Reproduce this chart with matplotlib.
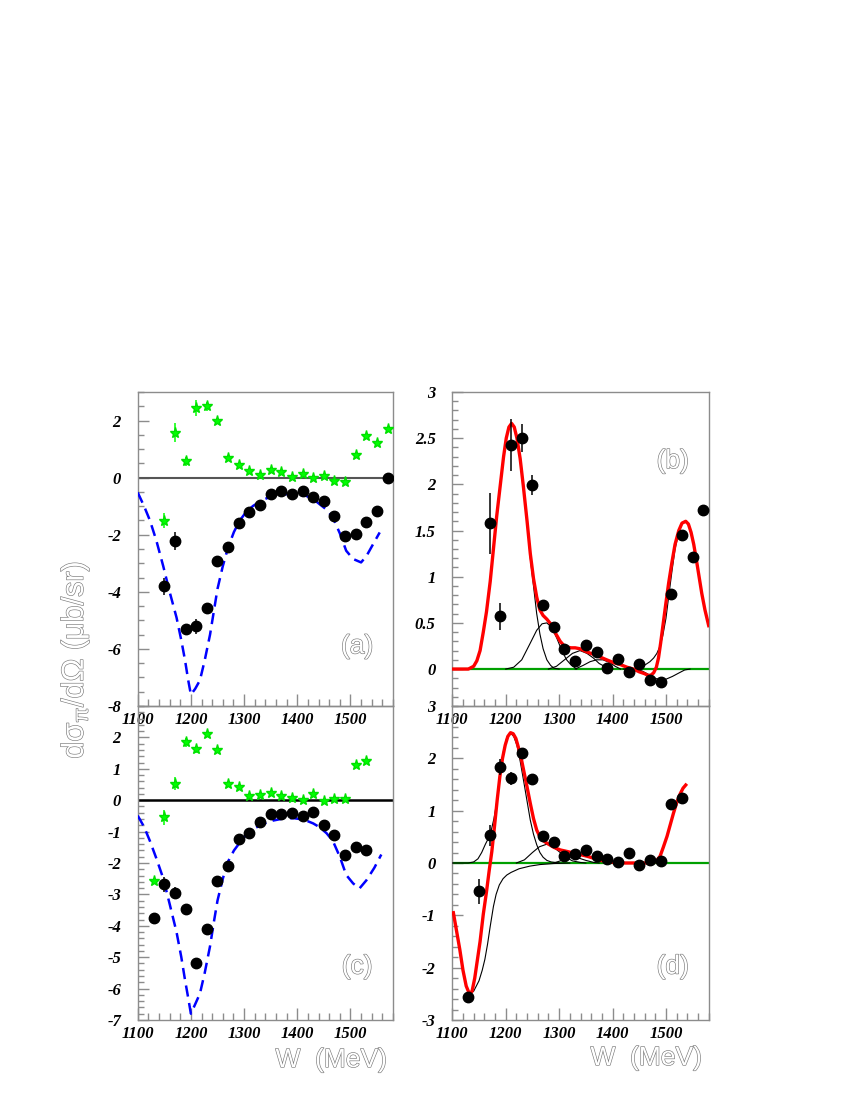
import numpy as np
import matplotlib
matplotlib.use("Agg")
import matplotlib.pyplot as plt
import matplotlib.patheffects as pe
from matplotlib.ticker import MultipleLocator, FixedLocator, FuncFormatter

plt.rcParams['font.family'] = ['Liberation Serif', 'DejaVu Serif']
plt.rcParams['font.weight'] = 'bold'
plt.rcParams['font.style'] = 'italic'
plt.rcParams['axes.unicode_minus'] = False
plt.rcParams['mathtext.fontset'] = 'custom'
plt.rcParams['mathtext.rm'] = 'Liberation Sans'
plt.rcParams['mathtext.default'] = 'regular'

# ===== data =====
# panels (a)/(b): W = 1150 ... 1570 MeV
W_ab = [1150, 1170, 1190, 1210, 1230, 1250, 1270, 1290, 1310, 1330, 1350,
        1370, 1390, 1410, 1430, 1450, 1470, 1490, 1510, 1530, 1550, 1570]
a_dots = [-3.81, -2.21, -5.29, -5.21, -4.58, -2.92, -2.42, -1.58, -1.21, -0.97, -0.57,
          -0.47, -0.57, -0.47, -0.67, -0.81, -1.36, -2.06, -1.99, -1.55, -1.17, 0.0]
a_dots_err = [0.29, 0.32, 0.08, 0.27, 0.08, 0.07, 0.07, 0.06, 0.06, 0.05, 0.05,
              0.05, 0.05, 0.05, 0.05, 0.05, 0.06, 0.06, 0.06, 0.06, 0.06, 0.06]
ab_stars = [-1.51, 1.58, 0.57, 2.43, 2.50, 1.99, 0.69, 0.46, 0.22, 0.09, 0.26,
            0.19, 0.01, 0.11, -0.03, 0.05, -0.12, -0.14, 0.81, 1.45, 1.21, 1.72]
ab_stars_err = [0.27, 0.33, 0.15, 0.28, 0.15, 0.11, 0.05, 0.04, 0.03, 0.03, 0.03,
                0.03, 0.03, 0.03, 0.03, 0.03, 0.03, 0.03, 0.04, 0.04, 0.04, 0.04]

# panels (c)/(d): W = 1130 ... 1530 MeV
W_cd = [1130, 1150, 1170, 1190, 1210, 1230, 1250, 1270, 1290, 1310, 1330,
        1350, 1370, 1390, 1410, 1430, 1450, 1470, 1490, 1510, 1530]
c_dots = [-3.76, -2.68, -2.94, -3.46, -5.19, -4.09, -2.56, -2.10, -1.24, -1.03, -0.70,
          -0.43, -0.43, -0.42, -0.50, -0.39, -0.80, -1.11, -1.74, -1.49, -1.59]
c_dots_err = [0.06, 0.25, 0.16, 0.15, 0.10, 0.06, 0.06, 0.06, 0.06, 0.05, 0.05,
              0.05, 0.05, 0.05, 0.05, 0.05, 0.05, 0.05, 0.05, 0.05, 0.05]
cd_stars = [-2.57, -0.54, 0.53, 1.84, 1.62, 2.10, 1.60, 0.51, 0.41, 0.13, 0.17,
            0.24, 0.14, 0.08, 0.01, 0.19, -0.04, 0.05, 0.04, 1.12, 1.25]
cd_stars_err = [0.10, 0.24, 0.20, 0.15, 0.12, 0.05, 0.04, 0.10, 0.04, 0.03, 0.03,
                0.03, 0.03, 0.03, 0.03, 0.03, 0.03, 0.03, 0.03, 0.04, 0.04]

# blue dashed model curves
W_blue_a = [1100, 1112, 1123, 1135, 1148, 1160, 1173, 1182, 1189, 1195, 1200, 1208,
            1217, 1226, 1236, 1243, 1250, 1260, 1270, 1281, 1292, 1304, 1317, 1335,
            1354, 1372, 1392, 1405, 1417, 1430, 1442, 1455, 1467, 1480, 1492, 1505,
            1520, 1530, 1542, 1555]
blue_a = [-0.52, -1.0, -1.5, -2.2, -3.1, -4.0, -4.9, -5.7, -6.4, -7.1, -7.6, -7.4,
          -7.1, -6.4, -5.5, -4.7, -3.9, -3.1, -2.44, -1.9, -1.5, -1.2, -0.99, -0.78,
          -0.64, -0.58, -0.58, -0.6, -0.64, -0.75, -0.93, -1.12, -1.4, -1.95, -2.56, -2.85,
          -2.97, -2.75, -2.35, -1.92]
W_blue_c = [1100, 1112, 1123, 1135, 1148, 1160, 1173, 1182, 1189, 1195, 1200, 1208,
            1217, 1226, 1236, 1243, 1250, 1260, 1270, 1281, 1292, 1304, 1317, 1335,
            1354, 1372, 1392, 1405, 1417, 1430, 1442, 1455, 1467, 1480, 1492, 1505,
            1517, 1530, 1545, 1558]
blue_c = [-0.49, -0.85, -1.3, -1.85, -2.49, -3.3, -4.2, -5.0, -5.73, -6.3, -6.8, -6.5,
          -6.16, -5.5, -4.65, -3.9, -3.2, -2.5, -1.95, -1.6, -1.35, -1.1, -0.92, -0.76,
          -0.65, -0.59, -0.57, -0.6, -0.65, -0.74, -0.86, -1.05, -1.3, -1.8, -2.38, -2.65,
          -2.81, -2.55, -2.15, -1.73]

# red fit (b) and its components
W_red_b = [1100, 1130, 1140, 1146, 1152, 1158, 1164, 1171, 1177, 1183, 1190, 1196,
           1201, 1206, 1211, 1216, 1221, 1227, 1233, 1240, 1246, 1252, 1258, 1264,
           1270, 1277, 1284, 1290, 1296, 1302, 1308, 1314, 1322, 1330, 1339, 1350,
           1364, 1377, 1389, 1402, 1414, 1427, 1439, 1450, 1460, 1467, 1472, 1477,
           1482, 1486, 1490, 1495, 1500, 1505, 1511, 1517, 1524, 1530, 1537, 1542,
           1547, 1552, 1557, 1562, 1567, 1573, 1580]
red_b = [0.0, 0.0, 0.03, 0.09, 0.2, 0.4, 0.62, 0.95, 1.3, 1.65, 2.0, 2.3,
         2.5, 2.62, 2.66, 2.62, 2.5, 2.28, 1.98, 1.6, 1.25, 0.98, 0.78, 0.64,
         0.58, 0.54, 0.49, 0.42, 0.36, 0.3, 0.26, 0.24, 0.23, 0.23, 0.22, 0.19,
         0.16, 0.13, 0.1, 0.07, 0.05, 0.02, 0.0, -0.03, -0.05, -0.07, -0.065, -0.04,
         0.02, 0.12, 0.28, 0.5, 0.72, 0.93, 1.15, 1.35, 1.5, 1.58, 1.6, 1.57,
         1.48, 1.35, 1.18, 1.0, 0.82, 0.64, 0.47]
W_b1 = [1100, 1130, 1140, 1146, 1152, 1158, 1164, 1171, 1177, 1183, 1190, 1196,
        1201, 1206, 1211, 1216, 1221, 1227, 1233, 1240, 1246, 1252, 1258, 1264,
        1270, 1277, 1284, 1290, 1300]
b1 = [0.0, 0.0, 0.03, 0.09, 0.2, 0.4, 0.62, 0.95, 1.3, 1.65, 2.0, 2.3,
      2.5, 2.62, 2.66, 2.62, 2.5, 2.3, 2.0, 1.6, 1.2, 0.9, 0.6, 0.38,
      0.22, 0.1, 0.04, 0.01, 0.0]
W_b2 = [1200, 1215, 1230, 1245, 1258, 1268, 1277, 1286, 1296, 1305, 1314, 1323, 1333]
b2 = [0.0, 0.02, 0.1, 0.27, 0.42, 0.49, 0.5, 0.45, 0.33, 0.2, 0.1, 0.04, 0.0]
W_b3 = [1280, 1295, 1310, 1325, 1339, 1352, 1364, 1375, 1388, 1400]
b3 = [0.0, 0.03, 0.1, 0.17, 0.2, 0.17, 0.12, 0.06, 0.02, 0.0]
W_b4 = [1330, 1345, 1358, 1370, 1382, 1395, 1405, 1415]
b4 = [0.0, 0.04, 0.08, 0.1, 0.1, 0.07, 0.03, 0.0]
W_b5 = [1440, 1455, 1468, 1480, 1490, 1500, 1512, 1525, 1535, 1545]
b5 = [0.0, -0.02, -0.06, -0.1, -0.12, -0.11, -0.08, -0.04, -0.01, 0.0]
W_b6 = [1420, 1440, 1457, 1470, 1477, 1483, 1489, 1494, 1500, 1505, 1511, 1517,
        1524, 1530, 1537, 1542, 1547, 1552, 1557, 1562, 1567, 1573, 1580]
b6 = [0.0, 0.005, 0.03, 0.08, 0.12, 0.17, 0.25, 0.36, 0.55, 0.78, 1.05, 1.3,
      1.48, 1.57, 1.6, 1.57, 1.48, 1.35, 1.18, 1.0, 0.82, 0.64, 0.47]

# red fit (d) and its components
W_red_d = [1102, 1108, 1114, 1120, 1126, 1132, 1137, 1142, 1147, 1152, 1158, 1164,
           1169, 1174, 1179, 1184, 1189, 1194, 1199, 1204, 1209, 1214, 1219, 1224,
           1229, 1234, 1240, 1246, 1252, 1258, 1264, 1270, 1277, 1290, 1302, 1315,
           1327, 1340, 1352, 1365, 1377, 1390, 1402, 1420, 1439, 1460, 1477, 1483,
           1489, 1495, 1502, 1508, 1514, 1520, 1527, 1532, 1537]
red_d = [-0.95, -1.3, -1.65, -2.05, -2.35, -2.5, -2.45, -2.2, -1.85, -1.5, -0.98, -0.55,
         -0.15, 0.22, 0.7, 1.2, 1.65, 2.0, 2.25, 2.42, 2.49, 2.47, 2.38, 2.2,
         2.0, 1.75, 1.45, 1.14, 0.85, 0.63, 0.5, 0.43, 0.38, 0.3, 0.25, 0.22,
         0.19, 0.16, 0.13, 0.09, 0.05, 0.03, 0.01, 0.0, 0.0, 0.0, 0.01, 0.05,
         0.13, 0.3, 0.51, 0.73, 0.95, 1.15, 1.33, 1.43, 1.49]
W_d1 = [1100, 1130, 1140, 1148, 1155, 1162, 1171, 1178, 1184, 1190, 1196, 1202,
        1209, 1215, 1221, 1227, 1233, 1240, 1246, 1252, 1258, 1264, 1270, 1277,
        1285, 1300]
d1 = [0.0, 0.0, 0.02, 0.08, 0.2, 0.36, 0.54, 0.85, 1.21, 1.75, 2.15, 2.4,
      2.48, 2.42, 2.25, 1.95, 1.6, 1.18, 0.82, 0.55, 0.35, 0.2, 0.11, 0.05,
      0.02, 0.0]
W_d2 = [1102, 1108, 1114, 1120, 1126, 1132, 1140, 1150, 1156, 1161, 1166, 1171,
        1177, 1182, 1188, 1195, 1202, 1210, 1225, 1245, 1264, 1290, 1320]
d2 = [-0.95, -1.3, -1.65, -2.05, -2.35, -2.5, -2.45, -2.25, -2.05, -1.84, -1.55, -1.21,
      -0.83, -0.6, -0.42, -0.3, -0.23, -0.18, -0.11, -0.06, -0.03, -0.01, 0.0]
W_d3 = [1220, 1235, 1250, 1263, 1277, 1290, 1302, 1314, 1325, 1340, 1350]
d3 = [0.0, 0.06, 0.2, 0.31, 0.36, 0.3, 0.2, 0.1, 0.04, 0.01, 0.0]
W_d4 = [1290, 1305, 1320, 1335, 1350, 1365, 1375]
d4 = [0.0, 0.05, 0.1, 0.1, 0.05, 0.01, 0.0]

FIG_W, FIG_H = 850, 1100
fig = plt.figure(figsize=(8.5, 11), dpi=100)

def px_axes(x0, y0, x1, y1):
    return fig.add_axes([x0 / FIG_W, 1 - y1 / FIG_H, (x1 - x0) / FIG_W, (y1 - y0) / FIG_H])

ax_a = px_axes(137.7, 392, 393, 706)
ax_b = px_axes(452.3, 392, 708.7, 706)
ax_c = px_axes(137.7, 706, 393, 1020)
ax_d = px_axes(452.3, 706, 708.7, 1020)

fmt = FuncFormatter(lambda v, p: '%g' % v)
FRAME = '#8c8c8c'

def style(ax, ylim, ymajor, yminor):
    ax.set_xlim(1100, 1580)
    ax.set_ylim(*ylim)
    ax.patch.set_visible(False)
    for s in ax.spines.values():
        s.set_color(FRAME); s.set_linewidth(1.0)
    ax.xaxis.set_major_locator(MultipleLocator(100))
    ax.xaxis.set_minor_locator(MultipleLocator(20))
    ax.yaxis.set_major_locator(ymajor)
    ax.yaxis.set_minor_locator(MultipleLocator(yminor))
    ax.xaxis.set_major_formatter(fmt); ax.yaxis.set_major_formatter(fmt)
    ax.tick_params(which='both', direction='in', top=False, right=False, color=FRAME,
                   labelsize=12, width=1.0)
    ax.tick_params(axis='x', which='major', length=9, pad=4)
    ax.tick_params(axis='x', which='minor', length=5)
    ax.tick_params(axis='y', which='major', length=8, pad=12)
    ax.tick_params(axis='y', which='minor', length=4)

style(ax_a, (-8, 3), MultipleLocator(2), 0.5)
style(ax_b, (-0.4, 3), MultipleLocator(0.5), 0.1)
style(ax_c, (-7, 3), FixedLocator([-7, -6, -5, -4, -3, -2, -1, 0, 1, 2]), 0.2)
style(ax_d, (-3, 3), MultipleLocator(1), 0.2)

dot_kw = dict(fmt='o', color='black', ms=7.5, elinewidth=1.1, capsize=0, zorder=5)
star_kw = dict(fmt='*', color='#00ff00', ms=8, mec='#00e000', elinewidth=1.1,
               ecolor='#00ff00', capsize=0, zorder=4)
blue_kw = dict(color='#0000ff', lw=1.8, dashes=(4.5, 2.6), zorder=3)
red_kw = dict(color='#ff0000', lw=2.4, zorder=4, solid_joinstyle='round')
comp_kw = dict(color='black', lw=0.8, zorder=3)

# (a)
ax_a.axhline(0, color='#555555', lw=1.5, zorder=2)
ax_a.plot(W_blue_a, blue_a, **blue_kw)
ax_a.errorbar(W_ab, ab_stars, yerr=ab_stars_err, **star_kw)
ax_a.errorbar(W_ab, a_dots, yerr=a_dots_err, **dot_kw)

# (b)
ax_b.axhline(0, color='#00a000', lw=1.6, zorder=2)
for wx, yy in [(W_b1, b1), (W_b2, b2), (W_b3, b3), (W_b4, b4), (W_b5, b5), (W_b6, b6)]:
    ax_b.plot(wx, yy, **comp_kw)
ax_b.plot(W_red_b, red_b, **red_kw)
ax_b.errorbar(W_ab, ab_stars, yerr=ab_stars_err, **dot_kw)

# (c)
ax_c.axhline(0, color='black', lw=1.8, zorder=2)
ax_c.plot(W_blue_c, blue_c, **blue_kw)
ax_c.errorbar(W_cd, cd_stars, yerr=cd_stars_err, **star_kw)
ax_c.errorbar(W_cd, c_dots, yerr=c_dots_err, **dot_kw)

# (d)
ax_d.axhline(0, color='#00a000', lw=1.6, zorder=2)
for wx, yy in [(W_d1, d1), (W_d2, d2), (W_d3, d3), (W_d4, d4)]:
    ax_d.plot(wx, yy, **comp_kw)
ax_d.plot(W_red_d, red_d, **red_kw)
ax_d.errorbar(W_cd, cd_stars, yerr=cd_stars_err, **dot_kw)

# hollow-looking titles
hollow = dict(family=['Liberation Sans', 'DejaVu Sans'], weight='normal', style='normal',
              color='white',
              path_effects=[pe.withStroke(linewidth=0.9, foreground='#7a7a7a')])

for ax, lab, yf in [(ax_a, '(a)', 0.19), (ax_b, '(b)', 0.78),
                    (ax_c, '(c)', 0.17), (ax_d, '(d)', 0.17)]:
    ax.text(0.86, yf, lab, transform=ax.transAxes, ha='center', va='center',
            fontsize=19, **hollow)

fig.text(387 / FIG_W, 1 - 1060 / FIG_H, 'W  (MeV)', ha='right', va='center',
         fontsize=19, **hollow)
fig.text(702 / FIG_W, 1 - 1058 / FIG_H, 'W  (MeV)', ha='right', va='center',
         fontsize=19, **hollow)
fig.text(75 / FIG_W, 1 - 660 / FIG_H, r'd$\sigma_{\pi}$/d$\Omega$ ($\mu$b/sr)',
         rotation=90, ha='center', va='center', fontsize=22, **hollow)

fig.savefig('out.png', dpi=100)
